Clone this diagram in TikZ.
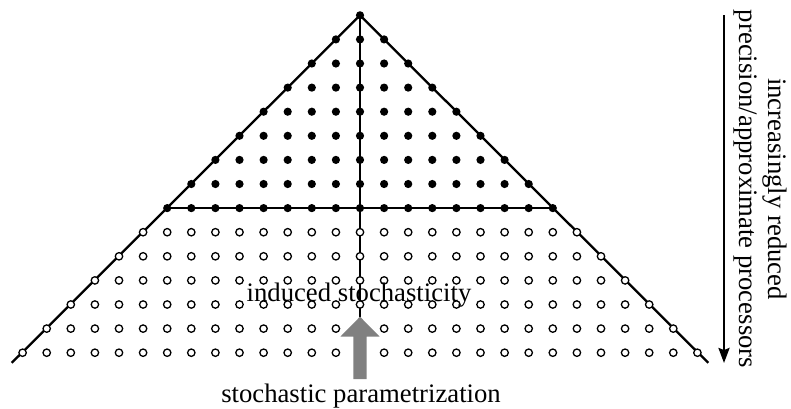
\documentclass[tikz,border=0pt]{standalone}
\usepackage{fontspec}
\setmainfont{Liberation Serif}
\usetikzlibrary{arrows.meta}
\pgfdeclarelayer{bg}
\pgfsetlayers{bg,main}
\definecolor{arrowgray}{RGB}{128,128,128}
\begin{document}
\begin{tikzpicture}[x=1pt,y=-1pt,
  fdot/.style={circle,fill=black,inner sep=0pt,minimum size=8.2pt},
  odot/.style={circle,draw=black,fill=white,line width=1.3pt,inner sep=0pt,minimum size=7.4pt},
  edge/.style={line width=2.3pt},
  lbl/.style={font=\fontsize{26.7}{28.5}\selectfont, inner sep=0pt}]
\useasboundingbox (0,0) rectangle (791,408);
\foreach \k in {0,...,14}{
  \pgfmathtruncatemacro{\n}{2*\k}
  \foreach \i in {0,...,\n}{
     \pgfmathsetmacro{\xx}{360+24.1*(\i-\k)}
     \pgfmathsetmacro{\yy}{15.3+24.1*\k}
     \ifnum\k<9
       \node[fdot] (d-\k-\i) at (\xx,\yy) {};
     \else
       \node[odot] (d-\k-\i) at (\xx,\yy) {};
     \fi
  }
}
\coordinate (lend) at (11.8,362.8);
\coordinate (rend) at (708.2,362.8);
\coordinate (tip) at (360,316.7);
\begin{pgfonlayer}{bg}
\draw[edge] (lend) -- (d-0-0.center) -- (rend);
\draw[edge] (d-8-0.center) -- (d-8-16.center);
\draw[edge] (d-0-0.center) -- (tip);
\end{pgfonlayer}
\fill[arrowgray] (tip) -- ++(19.7,20) -- ++(-13,0) -- ++(0,42.3) -- ++(-13.4,0) -- ++(0,-42.3) -- ++(-13,0) -- cycle;
\node[lbl, anchor=base] (ind) at (359,301.7) {induced stochasticity};
\node[lbl, anchor=base] (par) at (361,402.7) {stochastic parametrization};
\node[lbl, rotate=-90, anchor=base] (r1) at (768,189) {increasingly reduced};
\node[lbl, rotate=-90, anchor=base] (r2) at (739.5,189) {precision/approximate processors};
\coordinate (atop) at (724,15);
\coordinate (abot) at (724,363);
\draw[line width=2.3pt, -{Stealth[length=15pt,width=11pt,inset=2pt]}] (atop) -- (abot);
\end{tikzpicture}
\end{document}
